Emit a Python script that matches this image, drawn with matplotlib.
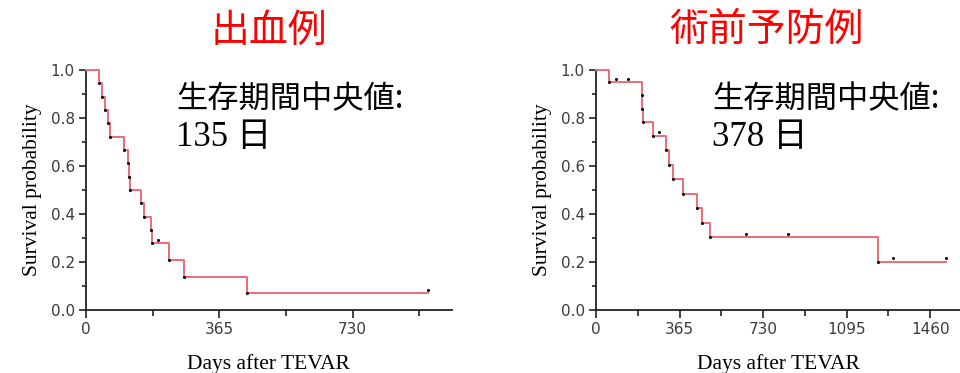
import numpy as np
import matplotlib
matplotlib.use("Agg")
import matplotlib.pyplot as plt
from matplotlib.ticker import MultipleLocator, FixedLocator
from matplotlib.transforms import offset_copy

# Follow-up (days) and status (1 = death, 0 = censored)
bleed_days = [36, 44, 53, 61, 67, 103, 114, 118, 120, 150, 160, 178, 180,
              197, 226, 267, 442, 937]
bleed_event = [1, 1, 1, 1, 1, 1, 1, 1, 1, 1, 1, 1, 1,
               0, 1, 1, 1, 0]

prev_days = [57, 87, 141, 199, 202, 206, 247, 276, 307, 318, 336, 378,
             440, 464, 500, 654, 840, 1233, 1298, 1529]
prev_event = [1, 0, 0, 1, 1, 1, 1, 0, 1, 1, 1, 1,
              1, 1, 1, 0, 0, 1, 0, 0]

titles = ["出血例", "術前予防例"]
medians = ["135", "378"]
x_major = [[0, 365, 730], [0, 365, 730, 1095, 1460]]
x_max = [1001, 1590]

LINE_RED = "#ee6a77"
TICK_GREY = "#3c3c3c"


def kaplan_meier(days, events):
    order = np.argsort(days, kind="stable")
    t = np.asarray(days, float)[order]
    e = np.asarray(events, int)[order]
    s = 1.0
    times, surv = [0.0], [1.0]
    ev_t, ev_s, cen_t, cen_s = [], [], [], []
    at_risk = len(t)
    for ti, ei in zip(t, e):
        if ei == 1:
            s *= (at_risk - 1) / at_risk
            times.append(ti)
            surv.append(s)
            ev_t.append(ti)
            ev_s.append(s)
        else:
            cen_t.append(ti)
            cen_s.append(s)
        at_risk -= 1
    times.append(t[-1])
    surv.append(s)
    return times, surv, ev_t, ev_s, cen_t, cen_s


fig = plt.figure(figsize=(9.6, 3.73), dpi=100)

boxes = [
    [86 / 960, 1 - 310 / 373, (451.7 - 86) / 960, 240 / 373],
    [596 / 960, 1 - 310 / 373, (960 - 596) / 960, 240 / 373],
]

groups = [(bleed_days, bleed_event), (prev_days, prev_event)]

for i, (days, events) in enumerate(groups):
    ax = fig.add_axes(boxes[i])
    times, surv, ev_t, ev_s, cen_t, cen_s = kaplan_meier(days, events)
    ax.step(times, surv, where="post", color=LINE_RED, lw=1.4,
            clip_on=False, zorder=3)
    ax.plot(ev_t, ev_s, "o", ms=2.2, color="black", mew=0, zorder=4,
            clip_on=False)
    lifted = offset_copy(ax.transData, fig=fig, x=0, y=2.4, units="points")
    ax.plot(cen_t, cen_s, "o", ms=2.2, color="black", mew=0, zorder=4,
            transform=lifted, clip_on=False)

    ax.set_xlim(0, x_max[i])
    ax.set_ylim(0, 1.0)
    ax.xaxis.set_major_locator(FixedLocator(x_major[i]))
    ax.xaxis.set_minor_locator(MultipleLocator(182.5))
    ax.yaxis.set_major_locator(MultipleLocator(0.2))
    ax.yaxis.set_minor_locator(MultipleLocator(0.1))
    ax.yaxis.set_major_formatter(plt.FormatStrFormatter("%.1f"))

    for side in ("top", "right"):
        ax.spines[side].set_visible(False)
    for side in ("left", "bottom"):
        ax.spines[side].set_linewidth(1.3)
        ax.spines[side].set_color("#222222")
    ax.tick_params(which="major", length=5, width=1.2, color="#222222",
                   labelsize=11, labelcolor=TICK_GREY, pad=3)
    ax.tick_params(which="minor", length=3, width=1.2, color="#222222")
    ax.tick_params(axis="x", which="minor", length=4)
    ax.tick_params(axis="x", which="major", length=6)
    ax.patch.set_alpha(0)

    ax.set_ylabel("Survival probability", family="Liberation Serif",
                  fontsize=15.5, labelpad=6)
    ax.set_xlabel("Days after TEVAR", family="Liberation Serif",
                  fontsize=15.5, labelpad=12)

# Group titles
fig.text(269 / 960, 1 - 31 / 373, titles[0], color="#ff0000", fontsize=28,
         family="Noto Sans CJK JP", weight="normal", ha="center",
         va="center")
fig.text(767 / 960, 1 - 30 / 373, titles[1], color="#ff0000", fontsize=28,
         family="Noto Sans CJK JP", weight="normal", ha="center",
         va="center")

# Median survival annotations
for x0, med in zip([176, 712], medians):
    fig.text(x0 / 960, 1 - 108 / 373, "生存期間中央値:", fontsize=22.5,
             family="Noto Sans CJK JP", color="black", ha="left",
             va="baseline")
    fig.text(x0 / 960, 1 - 146 / 373, med + " 日", fontsize=25,
             family=["Liberation Serif", "Noto Sans CJK JP"], color="black",
             ha="left", va="baseline")

fig.savefig("out.png", dpi=100)
